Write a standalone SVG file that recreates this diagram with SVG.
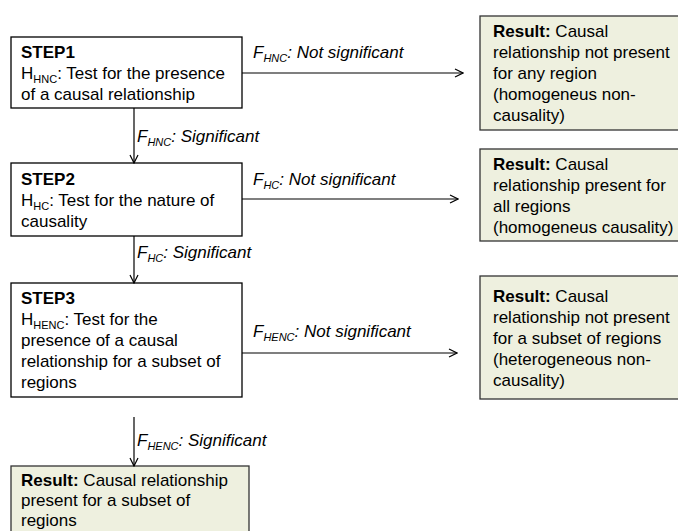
<svg xmlns="http://www.w3.org/2000/svg" width="678" height="531" viewBox="0 0 678 531">
<defs>
<marker id="arr" viewBox="0 0 10 10" refX="9" refY="5" markerWidth="10" markerHeight="10" markerUnits="userSpaceOnUse" orient="auto">
<polyline points="1,1 9,5 1,9" fill="none" stroke="#000" stroke-width="1.2"/>
</marker>
<style>
text{font-family:"Liberation Sans",Arial,sans-serif;font-size:17px;fill:#000}
.b{font-weight:bold}
.i{font-style:italic}
.sub{font-size:11px}
.step{fill:#fff;stroke:#000;stroke-width:1.3}
.res{fill:#EEF0DF;stroke:#333;stroke-width:1.3}
.c{fill:none;stroke:#000;stroke-width:1.2;marker-end:url(#arr)}
</style>
</defs>
<rect width="678" height="531" fill="#fff"/>
<g id="step1">
<rect class="step" x="11" y="37" width="231" height="71"/>
<text x="21" y="58" class="b">STEP1</text>
<text x="21" y="79">H<tspan class="sub" dy="4">HNC</tspan><tspan dy="-4">: Test for the presence</tspan></text>
<text x="21" y="100">of a causal relationship</text>
</g>
<g id="step2">
<rect class="step" x="11" y="163" width="231" height="73"/>
<text x="21" y="185" class="b">STEP2</text>
<text x="21" y="206">H<tspan class="sub" dy="4">HC</tspan><tspan dy="-4">: Test for the nature of</tspan></text>
<text x="21" y="227">causality</text>
</g>
<g id="step3">
<rect class="step" x="11" y="283" width="231" height="114"/>
<text x="21" y="304" class="b">STEP3</text>
<text x="21" y="325">H<tspan class="sub" dy="4">HENC</tspan><tspan dy="-4">: Test for the</tspan></text>
<text x="21" y="346">presence of a causal</text>
<text x="21" y="367">relationship for a subset of</text>
<text x="21" y="388">regions</text>
</g>
<g id="result1">
<rect class="res" x="480" y="16" width="210" height="114"/>
<text x="493" y="37"><tspan class="b">Result:</tspan> Causal</text>
<text x="493" y="58">relationship not present</text>
<text x="493" y="79">for any region</text>
<text x="493" y="100">(homogeneus non-</text>
<text x="493" y="121">causality)</text>
</g>
<g id="result2">
<rect class="res" x="480" y="149" width="210" height="92"/>
<text x="493" y="170"><tspan class="b">Result:</tspan> Causal</text>
<text x="493" y="191">relationship present for</text>
<text x="493" y="212">all regions</text>
<text x="493" y="233">(homogeneus causality)</text>
</g>
<g id="result3">
<rect class="res" x="480" y="276" width="210" height="123"/>
<text x="493" y="302"><tspan class="b">Result:</tspan> Causal</text>
<text x="493" y="323">relationship not present</text>
<text x="493" y="344">for a subset of regions</text>
<text x="493" y="365">(heterogeneous non-</text>
<text x="493" y="386">causality)</text>
</g>
<g id="result4">
<rect class="res" x="11" y="466" width="238" height="80"/>
<text x="21" y="486"><tspan class="b">Result:</tspan> Causal relationship</text>
<text x="21" y="506">present for a subset of</text>
<text x="21" y="526">regions</text>
</g>
<g id="connectors">
<line class="c" x1="242" y1="73" x2="463" y2="73"/>
<line class="c" x1="242" y1="199" x2="458" y2="199"/>
<line class="c" x1="242" y1="353" x2="457" y2="353"/>
<line class="c" x1="134" y1="108" x2="134" y2="163"/>
<line class="c" x1="134" y1="236" x2="134" y2="283"/>
<line class="c" x1="134" y1="417" x2="134" y2="466"/>
<text x="253" y="58" class="i">F<tspan class="sub" dy="4">HNC</tspan><tspan dy="-4">: Not significant</tspan></text>
<text x="253" y="185" class="i">F<tspan class="sub" dy="4">HC</tspan><tspan dy="-4">: Not significant</tspan></text>
<text x="253" y="337" class="i">F<tspan class="sub" dy="4">HENC</tspan><tspan dy="-4">: Not significant</tspan></text>
<text x="137" y="142" class="i">F<tspan class="sub" dy="4">HNC</tspan><tspan dy="-4">: Significant</tspan></text>
<text x="137" y="258" class="i">F<tspan class="sub" dy="4">HC</tspan><tspan dy="-4">: Significant</tspan></text>
<text x="137" y="446" class="i">F<tspan class="sub" dy="4">HENC</tspan><tspan dy="-4">: Significant</tspan></text>
</g>
</svg>
